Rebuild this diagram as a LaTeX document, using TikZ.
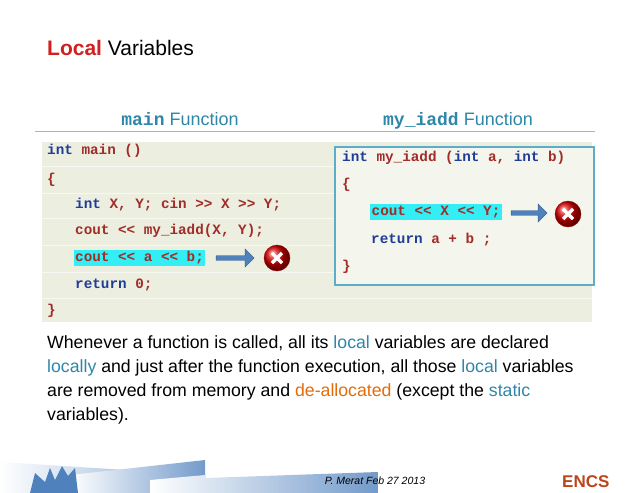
\documentclass[tikz,border=0pt]{standalone}
\usepackage{fontspec}
\setmainfont{Liberation Sans}
\newfontfamily\codefont{Liberation Mono}
\usetikzlibrary{shapes.arrows}
\definecolor{kw}{HTML}{1F3C99}
\definecolor{rd}{HTML}{A12C28}
\definecolor{teal}{HTML}{2E86A8}
\definecolor{org}{HTML}{E36C09}
\definecolor{bg}{HTML}{ECEEE0}
\definecolor{hl}{HTML}{33EEF5}
\definecolor{bx}{HTML}{5BADC8}
\definecolor{arr}{HTML}{4F81BD}
\definecolor{ttl}{HTML}{D22020}
\tikzset{
 code/.style={anchor=west,inner sep=0pt,font=\codefont\bfseries\fontsize{14.3}{16}\selectfont,text=rd},
 hdr/.style={anchor=base,inner sep=0pt,font=\fontsize{18}{20}\selectfont,text=teal},
 para/.style={anchor=base west,inner sep=0pt,font=\fontsize{17.7}{20}\selectfont},
 hbox/.style={fill=hl,inner sep=1.5pt},
 barrow/.style={single arrow,draw=arr!70!black,fill=arr,minimum height=38pt,minimum width=18pt,single arrow head extend=5pt,inner sep=1.5pt},
 xcircle/.style={circle,ball color=red!85!black,draw=red!60!black,minimum size=26pt,inner sep=0pt}
}
\begin{document}
\begin{tikzpicture}[x=1pt,y=-1pt]
\useasboundingbox (0,0) rectangle (638,493);
\node[anchor=base west,inner sep=0pt,font=\fontsize{21}{23}\selectfont] (title) at (47,55) {\textcolor{ttl}{\bfseries Local} Variables};
\node[hdr] (h1) at (180,125) {{\codefont\bfseries main} Function};
\node[hdr] (h2) at (458,125) {{\codefont\bfseries my\_iadd} Function};
\draw[gray!60] (35,131) -- (595,131);
\fill[bg] (42,142) rectangle (592,322);
\foreach \y in {166,193,218,245,272,298} \draw[white,opacity=.6] (42,\y) -- (592,\y);
\node[code] (m1) at (47,151) {\textcolor{kw}{int} main ()};
\node[code] (m2) at (47,180) {\{};
\node[code] (m3) at (75,205) {\textcolor{kw}{int} X, Y; cin >> X >> Y;};
\node[code] (m4) at (75,231) {cout << my\_iadd(X, Y);};
\node[code,hbox] (m5) at (73.5,258) {cout << a << b;};
\node[code] (m6) at (75,285) {\textcolor{kw}{return} 0;};
\node[code] (m7) at (47,311) {\}};
\node[barrow] (a1) at (234,258) {};
\node[xcircle] (x1) at (277,258) {};
\draw[white,line width=3.5pt] ([shift={(-5,-5)}]x1.center) -- ([shift={(5,5)}]x1.center) ([shift={(-5,5)}]x1.center) -- ([shift={(5,-5)}]x1.center);
\draw[bx,fill=bg!60!white,line width=1.2pt] (335,147) rectangle (594,285);
\node[code] (f1) at (342,158) {\textcolor{kw}{int} my\_iadd (\textcolor{kw}{int} a, \textcolor{kw}{int} b)};
\node[code] (f2) at (342,185) {\{};
\node[code,hbox] (f3) at (370,212) {cout << X << Y;};
\node[barrow,minimum height=36pt] (a2) at (528,213) {};
\node[xcircle] (x2) at (568,214) {};
\node[code] (f4) at (371,240) {\textcolor{kw}{return} a + b ;};
\node[code] (f5) at (342,267) {\}};
\draw[white,line width=3.5pt] ([shift={(-5,-5)}]x2.center) -- ([shift={(5,5)}]x2.center) ([shift={(-5,5)}]x2.center) -- ([shift={(5,-5)}]x2.center);
\node[para] (p1) at (47,348) {Whenever a function is called, all its \textcolor{teal}{local} variables are declared};
\node[para] (p2) at (47,372) {\textcolor{teal}{locally} and just after the function execution, all those \textcolor{teal}{local} variables};
\node[para] (p3) at (47,396) {are removed from memory and \textcolor{org}{de-allocated} (except the \textcolor{teal}{static}};
\node[para] (p4) at (47,420) {variables).};
\shade[left color=white,right color=arr!70] (0,462) -- (205,475) -- (205,493) -- (0,493) -- cycle;
\shade[left color=white,right color=arr!80] (70,475) -- (205,460) -- (205,493) -- (70,493) -- cycle;
\fill[arr] (30,493) -- (35,473) -- (45,482) -- (50,468) -- (55,480) -- (62,466) -- (68,476) -- (75,468) -- (78,493) -- cycle;
\shade[left color=white,right color=arr!80] (150,480) -- (205,475) -- (205,478) -- (378,472) -- (378,493) -- (150,493) -- cycle;
\node[anchor=base,inner sep=0pt,font=\itshape\fontsize{10.5}{12}\selectfont] (ft) at (375,484) {P. Merat Feb 27 2013};
\node[anchor=base west,inner sep=0pt,font=\bfseries\fontsize{17}{18}\selectfont,text=rd!70!orange] (logo) at (562,487) {ENCS};
\end{tikzpicture}
\end{document}
